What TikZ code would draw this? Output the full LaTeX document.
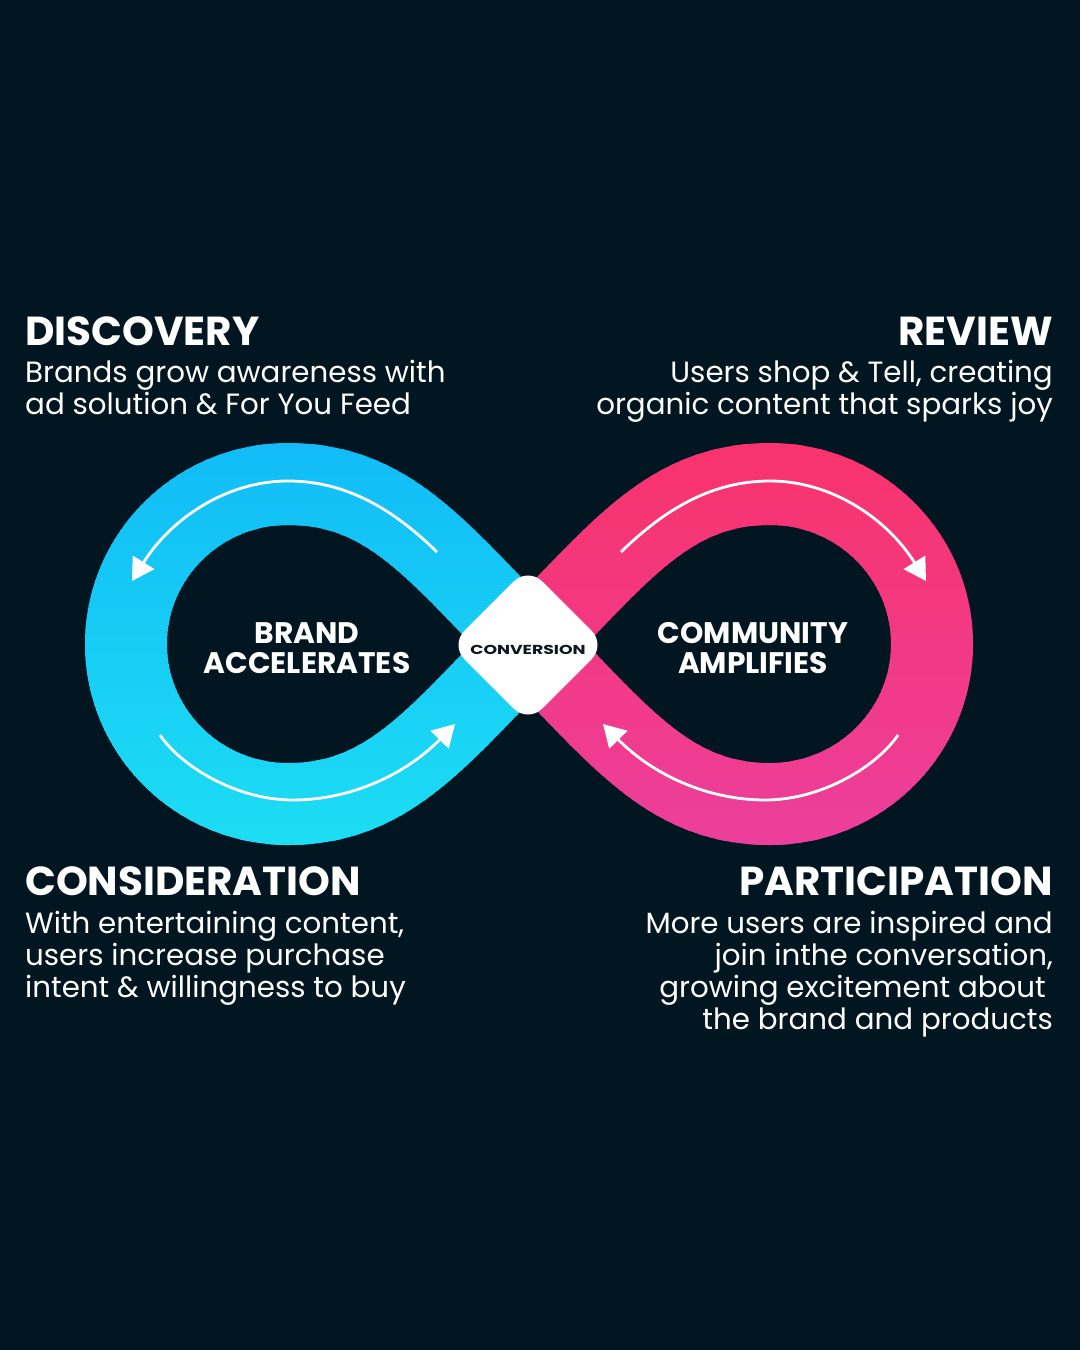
\documentclass[tikz,border=0pt]{standalone}
\usepackage{fontspec}
\setmainfont{Poppins}
\usetikzlibrary{arrows.meta}
\definecolor{bg}{HTML}{021621}
\definecolor{bluetop}{HTML}{12BCF7}
\definecolor{bluebot}{HTML}{1CDDF3}
\definecolor{pinktop}{HTML}{F8336C}
\definecolor{pinkbot}{HTML}{EC3F9C}
\definecolor{convtext}{HTML}{0B1620}
\begin{document}
\begin{tikzpicture}[x=1pt,y=-1pt,
  heading/.style={font=\fontsize{40.5}{48}\selectfont\bfseries, text=white, inner sep=0pt},
  body/.style={font=\fontsize{29.3}{32}\selectfont, text=white, inner sep=0pt},
  centerlabel/.style={font=\fontsize{29.7}{30}\selectfont\bfseries, text=white, inner sep=0pt, anchor=base},
  flowarrow/.style={white, line width=2.8pt, -{Triangle[length=22pt,width=25pt]}},
  ribbon/.style={line width=82pt, line join=miter},
  convbox/.style={rectangle, fill=white, rounded corners=20pt, minimum size=110pt, rotate=45, inner sep=0pt},
  convlabel/.style={font=\fontsize{13}{15}\selectfont\bfseries, text=convtext, inner sep=0pt, anchor=base}
]
\fill[bg] (0,0) rectangle (1080,1350);
\useasboundingbox (0,0) rectangle (1080,1350);

\def\leftloop{(529,644) .. controls (439,554) and (390,484) .. (288,484) arc[start angle=-90,end angle=-270,x radius=162,y radius=160] .. controls (390,804) and (439,734) .. (529,644)}
\def\rightloop{(529,644) .. controls (619,554) and (668,484) .. (770,484) arc[start angle=-90,end angle=90,x radius=162,y radius=160] .. controls (668,804) and (619,734) .. (529,644)}

% blue lobe (vertical gradient by strips)
\foreach \i in {0,...,81}{
  \pgfmathsetmacro{\yy}{439+5*\i}
  \pgfmathsetmacro{\pc}{100*\i/81}
  \begin{scope}
    \clip (0,\yy) rectangle (1080,\yy+6);
    \draw[ribbon, color=bluebot!\pc!bluetop] \leftloop;
  \end{scope}
}
% pink lobe
\foreach \i in {0,...,81}{
  \pgfmathsetmacro{\yy}{439+5*\i}
  \pgfmathsetmacro{\pc}{100*\i/81}
  \begin{scope}
    \clip (0,\yy) rectangle (1080,\yy+6);
    \draw[ribbon, color=pinkbot!\pc!pinktop] \rightloop;
  \end{scope}
}

% flow arrows
\coordinate (tlS) at (437,552);
\coordinate (tlM) at (288,481);
\coordinate (tlE) at (132,581);
\coordinate (blS) at (160,735);
\coordinate (blM) at (293,800);
\coordinate (blE) at (455,724);
\coordinate (trS) at (621,552);
\coordinate (trM) at (770,481);
\coordinate (trE) at (926,581);
\coordinate (brS) at (898,735);
\coordinate (brM) at (765,800);
\coordinate (brE) at (603,724);
\draw[flowarrow] (tlS) .. controls (392,508) and (345,481) .. (tlM) .. controls (225,481) and (170,520) .. (tlE);
\draw[flowarrow] (blS) .. controls (180,765) and (235,800) .. (blM) .. controls (350,800) and (405,775) .. (blE);
\draw[flowarrow] (trS) .. controls (666,508) and (713,481) .. (trM) .. controls (833,481) and (888,520) .. (trE);
\draw[flowarrow] (brS) .. controls (878,765) and (823,800) .. (brM) .. controls (708,800) and (653,775) .. (brE);

% center diamond
\node[convbox] (convb) at (528,645) {};
\node[convlabel] (conv) at (528,654) {\scalebox{1.33}[1]{CONVERSION}};

% lobe labels
\node[centerlabel] (brand1) at (307,643) {BRAND};
\node[centerlabel] (brand2) at (307,673) {ACCELERATES};
\node[centerlabel] (comm1) at (753,643) {COMMUNITY};
\node[centerlabel] (comm2) at (753,673) {AMPLIFIES};

% DISCOVERY
\node[heading, anchor=base west] (disc) at (25,345) {DISCOVERY};
\node[body, anchor=base west] (disc1) at (25,382) {Brands grow awareness with};
\node[body, anchor=base west] (disc2) at (25,414) {ad solution \& For You Feed};
% REVIEW
\node[heading, anchor=base east] (rev) at (1053,345) {REVIEW};
\node[body, anchor=base east] (rev1) at (1053,382) {Users shop \& Tell, creating};
\node[body, anchor=base east] (rev2) at (1053,414) {organic content that sparks joy};
% CONSIDERATION
\node[heading, anchor=base west] (cons) at (25,895) {CONSIDERATION};
\node[body, anchor=base west] (cons1) at (25,933) {With entertaining content,};
\node[body, anchor=base west] (cons2) at (25,965) {users increase purchase};
\node[body, anchor=base west] (cons3) at (25,997) {intent \& willingness to buy};
% PARTICIPATION
\node[heading, anchor=base east] (part) at (1053,895) {PARTICIPATION};
\node[body, anchor=base east] (part1) at (1053,933) {More users are inspired and};
\node[body, anchor=base east] (part2) at (1053,965) {join inthe conversation,};
\node[body, anchor=base east] (part3) at (1046,997) {growing excitement about};
\node[body, anchor=base east] (part4) at (1053,1029) {the brand and products};
\end{tikzpicture}
\end{document}
